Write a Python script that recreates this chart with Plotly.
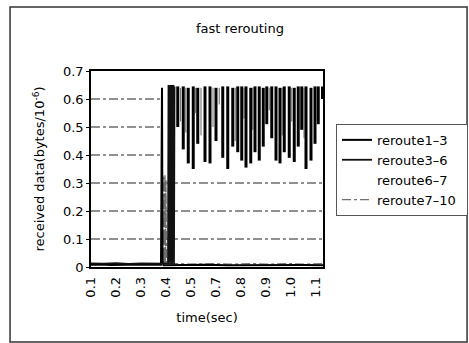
import plotly.graph_objects as go

# ---------------- data ----------------
x_tick_labels = ["0.1", "0.2", "0.3", "0.4", "0.5", "0.7", "0.8", "0.9", "1.0", "1.1"]
x_tick_pos = [0, 1, 2, 3, 4, 5, 6, 7, 8, 9]
y_tick_vals = [0, 0.1, 0.2, 0.3, 0.4, 0.5, 0.6, 0.7]
x_end = 9.28

# reroute1-3 : near zero, single jump at the rerouting instant, then idle
r13_x = [0.0, 0.4, 0.8, 1.2, 1.6, 2.0, 2.4, 2.8, 2.84, 2.86, 2.9, 3.5, 4.5, 5.5, 6.5, 7.5, 8.5, 9.28]
r13_y = [0.008, 0.009, 0.007, 0.008, 0.007, 0.009, 0.008, 0.008, 0.64, 0.02, 0.006,
         0.007, 0.008, 0.006, 0.007, 0.008, 0.007, 0.006]

# reroute3-6 : near zero, then heavy burst
r36_x = [0.0, 0.5, 1.0, 1.5, 2.0, 2.5, 3.0, 3.08, 3.10, 3.12, 3.14, 3.16, 3.18, 3.20,
         3.22, 3.24, 3.26, 3.28, 3.30, 3.32, 3.34]
r36_y = [0.013, 0.012, 0.014, 0.011, 0.013, 0.012, 0.012, 0.012, 0.65, 0.01, 0.65, 0.02,
         0.65, 0.01, 0.65, 0.01, 0.65, 0.02, 0.65, 0.01, 0.645]

# reroute3-6 after rerouting: peaks and dips
spike_x = [3.47, 3.69, 3.89, 4.09, 4.27, 4.56, 4.76, 5.00, 5.27, 5.47, 5.67, 5.87,
           6.03, 6.20, 6.39, 6.56, 6.73, 6.89, 7.03, 7.23, 7.40, 7.56, 7.73, 7.93,
           8.13, 8.29, 8.43, 8.60, 8.80, 8.96, 9.09, 9.26]
spike_top = [0.645, 0.645, 0.64, 0.645, 0.64, 0.645, 0.645, 0.64, 0.645, 0.645, 0.64, 0.645,
             0.645, 0.645, 0.64, 0.645, 0.645, 0.64, 0.645, 0.645, 0.645, 0.64, 0.645, 0.645,
             0.64, 0.645, 0.645, 0.645, 0.64, 0.645, 0.645, 0.645]
spike_dip = [0.50, 0.42, 0.37, 0.35, 0.44, 0.375, 0.37, 0.45, 0.39, 0.35, 0.43, 0.41,
             0.38, 0.355, 0.37, 0.41, 0.38, 0.43, 0.51, 0.46, 0.38, 0.37, 0.41, 0.39,
             0.375, 0.43, 0.49, 0.35, 0.38, 0.44, 0.51, 0.60]

# reroute6-7
r67_x = [0.0, 1.0, 2.0, 3.0, 4.0, 5.0, 6.0, 7.0, 8.0, 9.28]
r67_y = [0.004, 0.004, 0.004, 0.004, 0.004, 0.004, 0.004, 0.004, 0.004, 0.004]

# reroute7-10
r710_x = [0.0, 0.5, 1.0, 1.5, 2.0, 2.5, 2.86, 2.88, 2.90, 2.92, 2.94, 2.96, 2.98, 3.00,
          3.02, 3.04, 3.5, 4.0, 4.5, 5.0, 5.5, 6.0, 6.5, 7.0, 7.5, 8.0, 8.5, 9.0, 9.28]
r710_y = [0.011, 0.010, 0.012, 0.011, 0.010, 0.011, 0.011, 0.33, 0.01, 0.32, 0.01, 0.33,
          0.01, 0.31, 0.01, 0.011, 0.012, 0.010, 0.011, 0.012, 0.010, 0.011, 0.012,
          0.010, 0.011, 0.012, 0.010, 0.011, 0.012]
r710_spike_x = [3.58, 3.79, 4.18, 4.40, 4.88, 5.13, 5.77, 6.12, 6.47, 7.13, 7.65, 8.03, 8.52]
r710_spike_dip = [0.52, 0.48, 0.55, 0.47, 0.50, 0.58, 0.45, 0.53, 0.49, 0.56, 0.47, 0.52, 0.46]
r710_spike_top = 0.64

grid_full = [0.1, 0.2, 0.3]
grid_partial = [0.4, 0.5, 0.6]

# ---------------- figure ----------------
FONT = "DejaVu Sans, Arial, sans-serif"
PAD = "<span style='font-size:19px'>\u00a0</span>"

def segments(xs, tops, dips):
    sx, sy = [], []
    for x, t, d in zip(xs, tops, dips):
        sx += [x, x, None]
        sy += [t, d, None]
    return sx, sy

fig = go.Figure()

fig.add_trace(go.Scatter(x=r67_x, y=r67_y, mode="lines", name="reroute6–7" + PAD,
                         line=dict(color="white", width=1), legendrank=3, hoverinfo="skip"))
sx, sy = segments(r710_spike_x, [r710_spike_top] * len(r710_spike_x), r710_spike_dip)
fig.add_trace(go.Scatter(x=sx, y=sy, mode="lines", showlegend=False, legendgroup="g710",
                         line=dict(color="#808080", width=1.2)))
fig.add_trace(go.Scatter(x=r710_x, y=r710_y, mode="lines", name="reroute7–10" + PAD,
                         legendgroup="g710",
                         line=dict(color="#707070", width=1.3, dash="dashdot"), legendrank=4))
fig.add_trace(go.Scatter(x=r13_x, y=r13_y, mode="lines", name="reroute1–3" + PAD,
                         line=dict(color="black", width=2), legendrank=1))
fig.add_trace(go.Scatter(x=r36_x, y=r36_y, mode="lines", name="reroute3–6" + PAD,
                         legendgroup="g36",
                         line=dict(color="#111111", width=1.8), legendrank=2))
sx, sy = segments(spike_x, spike_top, spike_dip)
fig.add_trace(go.Scatter(x=sx, y=sy, mode="lines", showlegend=False, legendgroup="g36",
                         line=dict(color="black", width=3)))

shapes = []
for lv in grid_full:
    shapes.append(dict(type="line", xref="x", yref="y", x0=0, x1=x_end, y0=lv, y1=lv,
                       layer="below", line=dict(color="#222222", width=1, dash="dashdot")))
for lv in grid_partial:
    shapes.append(dict(type="line", xref="x", yref="y", x0=0, x1=r13_x[8], y0=lv, y1=lv,
                       layer="below", line=dict(color="#222222", width=1, dash="dashdot")))
# outer chart-area frame
shapes.append(dict(type="rect", xref="paper", yref="paper", x0=-0.349, x1=1.621,
                   y0=-0.383, y1=1.327, line=dict(color="#333333", width=1.5)))

fig.update_layout(
    width=469, height=343,
    margin=dict(l=91, r=146, t=71, b=76, autoexpand=False),
    paper_bgcolor="white", plot_bgcolor="white",
    font=dict(family=FONT, size=13, color="black"),
    title=dict(text="fast rerouting", x=0.642, xref="paper", xanchor="center",
               y=1 - 28 / 343, yref="container", yanchor="middle",
               font=dict(family=FONT, size=13, color="black")),
    showlegend=True,
    legend=dict(x=1.056, y=0.73, xanchor="left", yanchor="top",
                bordercolor="#555555", borderwidth=1, bgcolor="white",
                font=dict(family=FONT, size=13, color="black"),
                tracegroupgap=0),
    shapes=shapes,
)

fig.update_xaxes(range=[0, x_end], tickvals=x_tick_pos, ticktext=x_tick_labels,
                 tickangle=-90, showgrid=False, zeroline=False, automargin=False,
                 showline=True, linecolor="black", linewidth=1.5, mirror=True,
                 ticks="", tickfont=dict(size=13), ticklabelstandoff=3,
                 title=dict(text="time(sec)", font=dict(size=13), standoff=16))
fig.update_yaxes(range=[0, 0.7], tickvals=y_tick_vals, showgrid=False, zeroline=False,
                 automargin=False,
                 showline=True, linecolor="black", linewidth=1.5, mirror=True,
                 ticks="outside", ticklen=3, tickcolor="black", tickfont=dict(size=13),
                 title=dict(text="received data(bytes/10<sup>-6</sup>)", font=dict(size=13),
                            standoff=15))

fig.write_html("out.html", config={"displayModeBar": False},
               post_script="document.body.style.margin='0';document.body.style.padding='0';")
